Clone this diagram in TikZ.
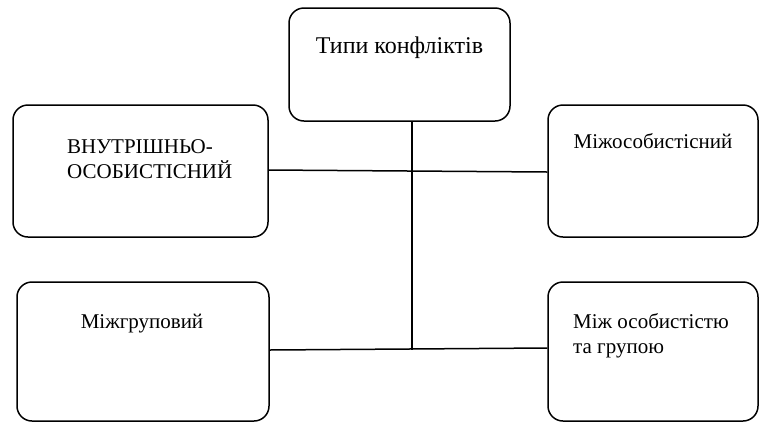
\documentclass[tikz,border=0pt]{standalone}
\usepackage{fontspec}
\setmainfont{Liberation Serif}
\begin{document}
\begin{tikzpicture}[x=1pt,y=-1pt,
  box/.style={draw,line width=1.5pt,rounded corners=15pt,inner sep=0pt,rectangle},
  lbl/.style={font=\fontsize{21}{25}\selectfont,inner sep=0pt},
  ttl/.style={font=\fontsize{24}{28}\selectfont,inner sep=0pt},
  conn/.style={line width=1.5pt}]
\useasboundingbox (0,0) rectangle (760,424);
\node[box,minimum width=221pt,minimum height=113pt] (top) at (399.5,64.5) {};
\node[box,minimum width=255pt,minimum height=132pt] (lu) at (140.5,171) {};
\node[box,minimum width=210pt,minimum height=132pt] (ru) at (653,171) {};
\node[box,minimum width=252pt,minimum height=139pt] (ll) at (143,351.5) {};
\node[box,minimum width=210pt,minimum height=139pt] (rl) at (653,351.5) {};
\node[ttl,anchor=base] (t1) at (399.5,53) {Типи конфліктів};
\node[lbl,anchor=base west] (t2) at (67,153) {ВНУТРІШНЬО-};
\node[lbl,anchor=base west] (t3) at (67,178) {ОСОБИСТІСНИЙ};
\node[lbl,anchor=base] (t4) at (653,148) {Міжособистісний};
\node[lbl,anchor=base] (t5) at (142,328) {Міжгруповий};
\node[lbl,anchor=base west] (t6) at (573,328) {Між особистістю};
\node[lbl,anchor=base west] (t7) at (573,353) {та групою};
\coordinate (jb) at (412,350);
\draw[conn] ([xshift=12.5pt]top.south) -- (jb);
\draw[conn] ([yshift=1pt]lu.east) -- ([yshift=-1pt]ru.west);
\draw[conn] ([yshift=1.5pt]ll.east) -- ([yshift=3.5pt]rl.west);
\end{tikzpicture}
\end{document}
